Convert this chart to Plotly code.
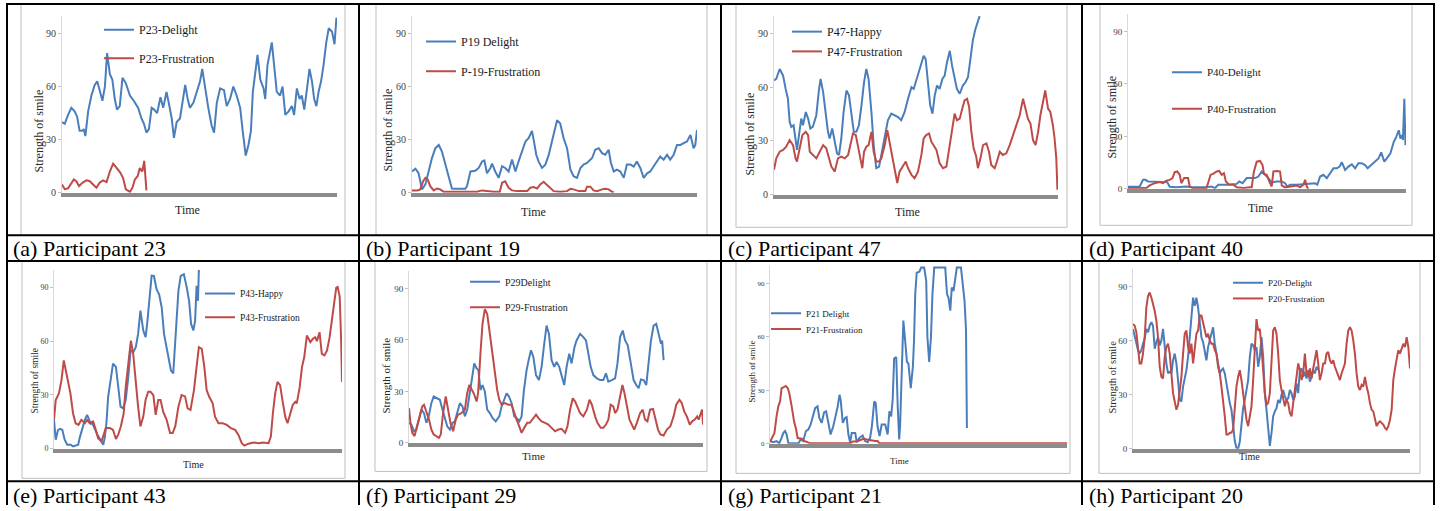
import plotly.graph_objects as go

W, H = 1442, 511
FONT = "'Liberation Serif', 'Times New Roman', Times, 'DejaVu Serif', serif"
BLUE = "#4A7EBB"
RED = "#BE4B48"

# ---------------- data (time in % of the recording, strength of smile) ----------------
# (a) Participant 23
a_blue_t = [0, 1.0, 2.2, 3.4, 4.6, 5.5, 6.4, 7.3, 7.9, 8.5, 9.5, 10.7, 11.9, 12.8, 13.7, 14.7, 15.6, 16.4, 17.4, 18.3,
            19.2, 20.0, 21.0, 22.0, 23.2, 24.7, 26.1, 27.7, 28.9, 29.8, 30.7, 31.6, 32.6, 33.5, 34.6, 35.8, 36.8, 38.0, 38.8, 39.9,
            40.7, 41.7, 42.9, 43.9, 44.8, 45.7, 46.5, 47.8, 49.0, 50.2, 51.0, 52.0, 53.2, 54.4, 55.3, 56.3, 57.5, 58.9, 59.9, 61.1,
            62.3, 63.5, 64.8, 65.7, 66.8, 67.8, 68.7, 69.4, 70.2, 71.1, 72.1, 73.3, 73.9, 74.7, 76.3, 77.2, 78.1, 79.3, 80.2, 81.2,
            82.4, 83.6, 84.4, 85.4, 86.4, 87.2, 88.1, 89.1, 90.0, 90.9, 91.7, 92.5, 93.3, 94.2, 95.1, 96.1, 97.0, 98.2, 99.1, 99.8]
a_blue_v = [40, 39, 44, 48, 46, 43, 35, 35, 36, 32, 46, 55, 61, 63, 58, 52, 60, 79, 67, 64,
            53, 47, 49, 65, 62, 55, 52, 48, 42, 39, 34, 36, 48, 47, 45, 54, 48, 57, 51, 42,
            31, 40, 42, 53, 61, 53, 48, 51, 57, 63, 70, 59, 48, 38, 34, 51, 59, 58, 49, 53,
            60, 55, 48, 35, 21, 27, 35, 57, 66, 78, 64, 59, 53, 72, 85, 72, 57, 55, 60, 44,
            46, 49, 44, 59, 53, 55, 47, 59, 70, 63, 53, 49, 57, 63, 72, 85, 93, 91, 84, 99]
a_red_t = [0, 1.0, 2.2, 3.4, 4.3, 5.2, 6.2, 7.4, 8.9, 10.1, 11.3, 12.5, 13.7, 14.9, 16.2, 17.4, 18.6, 19.8, 21.0, 22.2,
           23.2, 24.7, 25.6, 26.5, 27.5, 28.3, 29.2, 29.9, 30.4, 30.7]
a_red_v = [4.7, 2, 2.5, 5.6, 7.5, 6.5, 3.7, 5.6, 7, 6.5, 4.7, 2.8, 5.6, 7, 6, 12, 16.4, 14, 11.8, 8.4,
           1.9, 0.5, 2.8, 7.5, 9.3, 14, 12, 18, 8, 1.3]

# (b) Participant 19
b_blue_t = [0, 1.2, 2.3, 3.5, 4.7, 5.8, 7.0, 8.2, 9.4, 10.5, 11.7, 12.9, 14.0, 15.2, 17.0, 18.7, 19.3, 20.5, 22.2, 23.4,
            24.6, 25.4, 26.3, 27.5, 28.1, 29.2, 30.4, 31.6, 32.7, 33.9, 35.1, 36.3, 37.4, 38.6, 39.8, 40.9, 42.1, 42.7, 43.6, 44.4,
            45.6, 46.8, 48.0, 49.1, 50.1, 50.9, 52.0, 53.2, 54.4, 55.6, 56.7, 57.9, 59.1, 60.2, 61.4, 63.2, 64.3, 65.5, 66.7, 67.8,
            69.0, 69.8, 70.8, 71.9, 73.1, 74.3, 75.4, 76.6, 77.8, 78.9, 80.1, 81.3, 82.5, 83.6, 84.8, 86.0, 87.1, 88.3, 89.5, 90.6,
            91.8, 93.0, 94.2, 95.3, 96.5, 97.7, 98.8, 99.4, 100]
b_blue_v = [12, 13.6, 11, 1.9, 4.7, 12, 19.6, 25.2, 27, 23.3, 15.9, 9.3, 2.4, 2.2, 2.2, 2.2, 3.7, 12, 12.4, 14,
            17.7, 18.3, 11, 14, 16.4, 12, 8.4, 15, 14, 12, 18.7, 12, 17.7, 23.3, 29, 30.8, 34.9, 29.9, 21.5, 17.7,
            14, 15.9, 21.5, 29, 36.4, 41, 39.2, 30.8, 25.2, 13, 9.3, 8.4, 14, 15.9, 16.8, 19.6, 24.3, 25.2, 22.4, 21.5,
            24.3, 16.8, 12, 13, 12, 8.4, 15.9, 15.9, 14.8, 17.7, 14, 8.4, 11, 12, 15, 17.7, 20.5, 18.7, 21.5, 18.7,
            21.5, 27, 27, 28, 29, 32.7, 25.2, 27, 35.5]
b_red_t = [0, 1.8, 2.9, 3.9, 4.7, 5.5, 6.4, 7.6, 8.8, 9.9, 11.1, 17.0, 22.8, 24.6, 26.3, 28.7, 30.8, 31.6, 32.7, 33.9,
           35.1, 36.8, 40.4, 41.5, 42.7, 43.9, 45.0, 46.2, 47.4, 48.5, 49.7, 52.0, 54.4, 55.6, 56.7, 58.5, 60.8, 61.4, 62.6, 63.7,
           64.9, 66.7, 67.8, 69.0, 70.2, 70.8]
b_red_v = [1.3, 1.3, 1.9, 6.5, 8.4, 7.5, 3.7, 1.3, 2.4, 1.9, 0.5, 0.5, 0.5, 1.3, 0.9, 0.5, 0.5, 5.6, 6.5, 2.8,
           1.3, 0.9, 0.9, 2.8, 3.2, 2.4, 4.7, 6.2, 4.3, 2.4, 0.9, 0.5, 0.9, 2.2, 1.9, 0.9, 0.9, 3.4, 3.4, 1.3,
           0.9, 1.9, 2.2, 1.9, 0.5, 0.4]

# (c) Participant 47
c_blue_t = [0, 0.8, 2.0, 3.2, 4.1, 4.9, 5.5, 6.1, 6.9, 7.6, 8.1, 8.8, 9.6, 10.2, 11.2, 12.0, 12.8, 13.7, 14.9, 15.8,
            16.4, 17.3, 18.2, 19.0, 19.6, 20.5, 21.4, 22.2, 22.9, 23.7, 24.5, 25.5, 26.4, 27.2, 28.1, 29.0, 29.9, 30.8, 31.7, 32.5,
            33.3, 34.3, 35.1, 36.0, 37.0, 37.8, 39.0, 40.1, 41.3, 42.5, 43.7, 44.8, 46.0, 47.2, 48.4, 49.2, 50.1, 51.1, 51.9, 52.7,
            53.4, 54.2, 55.0, 55.8, 56.6, 57.4, 58.3, 59.3, 60.1, 60.9, 61.9, 62.7, 63.6, 64.4, 65.4, 66.5, 67.4, 68.3, 69.1, 70.0,
            70.9, 71.8, 72.4]
c_blue_v = [63.8, 64.7, 70.2, 66.5, 59.1, 53.6, 40.7, 37.9, 38.8, 31.4, 25, 33.3, 42.5, 38.8, 46.2, 42.5, 37, 38, 44.4, 58.2,
            64.7, 57.3, 46.2, 35.1, 31.4, 37, 29.6, 23.1, 22.2, 31.4, 46.2, 58.2, 55.5, 44.4, 35.1, 35.1, 38.8, 49.9, 62.8, 70.2,
            64.7, 46.2, 27.7, 14.8, 15.7, 22.2, 33.3, 41.6, 45.3, 44.4, 43.4, 41.6, 46.2, 53.6, 60.1, 59.1, 63.8, 68.4, 72.1, 77.6,
            75.8, 61, 49.9, 45.3, 55.5, 61, 59.1, 64.7, 66.5, 73.9, 80.4, 72.1, 64.7, 59.1, 56.4, 61, 62.8, 65.6, 75, 86.1,
            92.4, 97, 99.8]
c_red_t = [0, 0.8, 2.0, 3.2, 4.3, 5.5, 6.7, 7.6, 8.1, 9.0, 10.0, 11.2, 12.0, 12.6, 13.7, 14.9, 16.1, 17.3, 18.4, 19.4,
           20.2, 21.4, 22.5, 23.7, 24.9, 26.1, 26.9, 27.8, 28.8, 29.6, 30.4, 31.1, 31.7, 32.5, 33.3, 34.3, 35.1, 36.0, 37.0, 37.8,
           39.0, 39.9, 40.7, 41.9, 42.8, 43.4, 44.2, 45.4, 46.4, 47.2, 48.4, 49.5, 50.7, 51.9, 52.7, 53.6, 54.6, 55.4, 56.2, 57.2,
           58.3, 59.5, 60.7, 61.9, 62.8, 63.6, 64.4, 65.4, 66.3, 67.1, 68.0, 68.7, 69.5, 70.3, 71.2, 71.8, 72.7, 73.6, 74.8, 75.7,
           76.5, 77.7, 78.5, 79.5, 80.6, 81.8, 83.0, 84.2, 85.3, 86.5, 87.7, 88.6, 89.4, 90.3, 91.2, 92.1, 93.0, 93.8, 94.7, 95.5,
           96.5, 97.3, 98.2, 98.8, 99.4, 99.8]
c_red_v = [13.9, 20.3, 24, 25, 26.8, 30.5, 27.7, 20.3, 18.5, 25.9, 33.3, 35.1, 33.3, 24, 22.2, 20.3, 24, 27.7, 25.9, 19.4,
           15.7, 12.9, 20.3, 21.3, 20.3, 22.2, 27.7, 34.2, 33.3, 27.7, 20.3, 14.8, 24, 26.8, 27.7, 35.1, 24, 18.5, 18.5, 20.3,
           27.7, 36, 29.6, 20.3, 11.1, 6.5, 12.9, 15.7, 18.5, 14.8, 11.1, 9.2, 12.9, 22.2, 31.4, 33.3, 34.2, 29.6, 27.7, 25,
           17.6, 14.8, 15.7, 27.7, 38.8, 45.3, 41.6, 42.5, 48.1, 52.7, 53.6, 49, 35.1, 25.9, 21.3, 14.8, 20.3, 27.7, 28.7, 24,
           16.6, 14.8, 18.5, 24, 22.2, 23.1, 27.7, 33.3, 38.8, 44.4, 53.6, 48.1, 42.5, 39.7, 30.5, 27.7, 35.1, 44.4, 51.8, 58.2,
           48.1, 46.2, 38.8, 31.4, 20.3, 2.8]

# (d) Participant 40
d_blue_t = [0, 1.8, 4.2, 5.4, 6.3, 7.2, 10.2, 13.2, 14.1, 15.0, 17.4, 21.0, 22.8, 25.8, 28.2, 30.0, 31.3, 32.5, 35.5, 39.1,
            40.0, 41.2, 42.7, 44.5, 45.7, 46.9, 48.1, 49.3, 50.5, 51.7, 53.5, 55.3, 56.5, 57.3, 58.3, 60.7, 63.1, 65.5, 67.3, 68.1,
            69.1, 70.3, 71.5, 72.7, 73.9, 75.1, 76.1, 76.9, 78.1, 79.3, 80.5, 81.7, 82.9, 84.1, 85.3, 86.2, 87.4, 88.9, 90.1, 91.1,
            92.2, 93.1, 94.4, 95.6, 96.5, 97.4, 98.0, 98.6, 98.9, 99.4, 99.8]
d_blue_v = [1.1, 1.1, 1.3, 5.1, 5.1, 4.2, 4.2, 4.2, 3.8, 1.1, 0.9, 1.3, 0.9, 0.9, 0.8, 1.3, 0.4, 2.3, 2.3, 2.8,
            4.2, 3.2, 6.1, 6.1, 6.1, 7, 9.9, 8, 6.1, 3.6, 4.2, 4.2, 3.2, 1.3, 2.3, 2.3, 2.7, 3.2, 3.2, 2.3,
            7, 8, 6.1, 8.9, 11.7, 11.7, 12.7, 15.2, 10.8, 12.7, 14, 11.7, 14.6, 14.6, 13.6, 11.7, 13.6, 15.5, 17.4, 20.8,
            15.5, 17.4, 20.3, 26.9, 29.7, 33.5, 28.8, 30.7, 27.9, 51.5, 25]
d_red_t = [0, 3.0, 4.8, 6.6, 7.8, 9.6, 11.4, 12.6, 13.6, 15.0, 16.0, 16.8, 17.7, 18.6, 19.2, 20.2, 21.6, 22.2, 23.4, 28.2,
           28.8, 29.7, 30.6, 31.9, 32.8, 33.7, 34.5, 35.2, 36.4, 37.9, 39.1, 41.5, 43.9, 44.5, 45.3, 46.3, 47.5, 48.4, 48.9, 49.9,
           50.8, 51.7, 52.3, 53.7, 54.7, 55.3, 56.5, 59.5, 60.7, 61.9, 63.1, 63.7, 64.3, 64.9]
d_red_v = [0.4, 0.4, 0.8, 0.4, 1.9, 3.2, 3.8, 3.2, 4.5, 5.1, 6.1, 9.5, 9.9, 8, 3.2, 6.1, 6.1, 1.3, 0.4, 0.4,
           3.2, 8, 8.5, 9.9, 10.2, 8, 8.9, 4.2, 2.3, 2.3, 0.9, 0.4, 0.8, 0.8, 9.9, 15.5, 15.9, 13.6, 8.5, 8,
           4.2, 1.3, 9.9, 10.2, 9.9, 1.9, 0.8, 1.3, 1.9, 0.8, 2.3, 5.1, 1.3, 0]

# (e) Participant 43
e_blue_t = [0, 0.6, 1.4, 2.2, 2.9, 3.7, 4.6, 5.8, 6.6, 7.5, 8.4, 8.9, 9.9, 10.7, 11.5, 12.2, 12.8, 13.3, 14.2, 15.1,
            16.1, 17.1, 17.6, 18.2, 18.8, 19.6, 20.5, 21.5, 22.3, 23.1, 24.0, 24.9, 25.8, 26.6, 27.5, 28.4, 29.2, 30.0, 31.0, 31.8,
            32.4, 33.1, 33.9, 34.7, 35.6, 36.5, 37.4, 38.2, 39.1, 39.9, 40.6, 41.4, 42.2, 43.2, 44.0, 45.1, 46.1, 46.9, 47.6, 48.4,
            49.0, 49.5, 50.0, 50.3]
e_blue_v = [16.1, 5, 10.5, 11.1, 10.5, 5, 2.2, 2.2, 1.3, 1.7, 2.2, 5.9, 12.4, 16.1, 18.9, 16.1, 13.9, 14.2, 10.5, 7.8,
            5, 2.2, 5.9, 14.2, 29, 38.3, 47.5, 45.7, 34.6, 23.5, 22.5, 27.2, 40.1, 54.9, 53.9, 56.7, 64.1, 77.1, 66, 62.3,
            70.6, 82.6, 96.7, 96.5, 89.1, 86.3, 78.9, 64.1, 56.7, 49.3, 43.8, 42, 62.8, 88.2, 96.5, 97.4, 90, 82.6, 69.7, 66,
            71.5, 91, 82.6, 100]
e_red_t = [0, 0.6, 1.7, 2.6, 3.4, 4.1, 4.9, 5.7, 6.6, 7.5, 8.5, 9.5, 10.7, 11.5, 12.4, 13.6, 14.5, 15.3, 16.5, 17.3,
           18.0, 19.4, 20.5, 21.5, 22.3, 23.2, 24.2, 24.9, 25.8, 26.7, 27.5, 28.4, 29.2, 30.0, 31.0, 31.8, 32.7, 33.5, 34.5, 35.3,
           36.2, 37.0, 37.9, 39.1, 40.3, 41.2, 42.1, 43.2, 44.3, 45.5, 46.4, 47.4, 48.6, 49.5, 50.3, 51.3, 52.2, 53.0, 53.9, 55.1,
           55.9, 57.1, 58.6, 60.0, 61.4, 62.9, 64.0, 65.2, 66.1, 67.5, 69.3, 71.0, 72.7, 74.5, 75.3, 76.0, 76.8, 77.6, 78.5, 79.5,
           80.3, 81.1, 82.0, 82.9, 83.8, 84.3, 85.3, 86.1, 86.9, 87.8, 89.0, 89.9, 90.7, 91.3, 92.2, 93.0, 93.9, 94.8, 95.7, 96.5,
           97.3, 98.0, 98.5, 99.2, 99.7, 100]
e_red_v = [16.1, 27.2, 30.9, 38.3, 49.3, 43.8, 38.3, 30.9, 19.8, 14.2, 13.3, 16.1, 14.2, 16.1, 14.2, 15.2, 10.5, 5.9, 4.1, 7.8,
           11.5, 11.5, 10.5, 5.4, 7.8, 12.4, 19.8, 34.6, 49.3, 60.4, 53, 36.4, 23.5, 12.4, 17.9, 27.2, 31.8, 31.8, 29.9, 18.9,
           27.2, 27.2, 20.7, 16.1, 8.7, 8.7, 12.4, 23.5, 29.9, 29.2, 22.5, 21.6, 32.7, 45.6, 56.7, 55.8, 45.6, 32.7, 29, 25.3,
           17.9, 14.2, 14.2, 13.3, 11.5, 10.5, 7.8, 3.1, 1.7, 2.8, 3.5, 3.1, 3.5, 3.1, 6.8, 19.8, 30.9, 37.3, 35.5, 25.3,
           17.9, 14.2, 19.8, 24.4, 26.2, 25.3, 34.2, 45.6, 51.2, 63.2, 59.5, 61.4, 62.3, 60.1, 65.1, 53, 52.1, 54.9, 62.3, 71.5,
           80.8, 90, 90.4, 85, 60.4, 37.3]

# (f) Participant 29
f_blue_t = [0, 0.8, 1.7, 2.5, 3.4, 4.2, 5.1, 5.9, 6.7, 7.6, 8.4, 9.3, 10.5, 11.4, 12.2, 13.0, 13.9, 14.8, 15.6, 16.5,
            17.3, 18.2, 19.0, 19.8, 20.7, 21.5, 22.2, 23.0, 23.6, 24.3, 25.0, 25.8, 26.6, 27.5, 28.4, 29.5, 30.7, 31.5, 32.3, 33.2,
            34.0, 34.9, 35.8, 36.6, 37.5, 38.3, 39.1, 40.0, 40.8, 41.5, 42.3, 43.2, 44.2, 45.1, 46.0, 46.8, 47.6, 48.5, 49.4, 50.2,
            51.1, 51.9, 52.8, 53.6, 54.5, 55.3, 56.3, 57.0, 58.2, 59.3, 60.2, 61.0, 61.8, 62.7, 63.9, 65.0, 66.1, 67.0, 67.8, 69.0,
            70.1, 70.9, 71.8, 72.7, 73.5, 74.4, 75.5, 76.4, 77.3, 78.1, 78.9, 79.8, 80.7, 81.5, 82.3, 83.2, 84.1, 84.9, 85.7, 86.1,
            86.6]
f_blue_v = [11.6, 10.6, 6.7, 7.7, 13.5, 19.3, 17.3, 11.6, 15.4, 23.1, 27, 26, 25.1, 19.3, 13.5, 9.6, 7.7, 11.6, 12.5, 18.3,
            23.1, 21.2, 15.4, 19.3, 28.9, 38.5, 46.3, 43.4, 42.4, 30.8, 33.7, 29.9, 19.3, 17.3, 14.5, 12.5, 15.4, 21.2, 25.1, 28.9,
            27, 23.1, 15.4, 14.5, 12.5, 15.4, 30.8, 42.4, 49.1, 54, 50.1, 39.5, 36.6, 44.3, 57.8, 68.4, 63.6, 48.2, 44.3, 47.2,
            44.3, 38.5, 33.7, 44.3, 52, 46.3, 55.9, 59.7, 63.6, 61.7, 59.7, 52, 44.3, 39.5, 37.6, 36.6, 36.6, 40.5, 35.7, 36.6,
            37.6, 46.3, 61.7, 65.5, 59.7, 56.9, 44.3, 36.6, 33.7, 31.8, 37, 36.6, 33.7, 46.3, 59.7, 68.4, 69.4, 63.6, 57.8, 59.7,
            48.2]
f_red_t = [0, 0.5, 1.1, 1.9, 2.7, 3.6, 4.5, 5.1, 5.9, 6.8, 7.6, 8.4, 9.3, 10.2, 10.8, 11.6, 12.5, 13.3, 14.1, 15.0,
           15.9, 16.7, 17.8, 19.0, 19.8, 20.5, 21.3, 22.0, 23.0, 23.5, 24.3, 25.0, 25.8, 26.6, 27.5, 28.4, 29.2, 30.0, 30.7, 31.5,
           32.6, 33.8, 34.9, 35.8, 36.6, 37.5, 38.3, 39.2, 40.2, 41.1, 42.0, 43.2, 44.0, 45.1, 46.3, 47.4, 48.5, 49.7, 50.8, 51.9,
           53.1, 53.9, 54.8, 55.7, 56.5, 57.3, 58.2, 59.3, 60.5, 61.4, 62.2, 63.3, 64.1, 65.2, 66.1, 67.0, 67.8, 68.6, 69.5, 70.1,
           70.9, 71.8, 72.6, 73.3, 74.1, 75.0, 75.8, 76.6, 77.5, 78.6, 79.5, 80.3, 81.1, 82.0, 83.0, 83.8, 84.7, 85.5, 86.6, 87.7,
           88.9, 90.0, 90.9, 92.0, 92.8, 93.6, 94.5, 95.5, 96.3, 97.2, 98.0, 98.5, 99.1, 99.7, 100]
f_red_v = [20.2, 11.6, 5.8, 3.9, 9.6, 15.4, 21.2, 22.2, 18.3, 13.5, 7.7, 4.8, 3.9, 2.9, 4.8, 17.3, 27, 19.3, 11.6, 6.7,
           13.5, 16.4, 17.3, 19.3, 28.9, 33.7, 30.8, 28.9, 24.1, 28.9, 52, 69.4, 78, 75.1, 63.6, 52, 42.4, 30.8, 25.1, 22.2,
           23.1, 22.2, 22.2, 17.3, 13.5, 9.6, 5.8, 8.7, 11.6, 11.6, 13.5, 16.4, 14.5, 12.5, 11.6, 10.6, 8.7, 6.7, 7.7, 8.1,
           5.8, 9.6, 19.3, 26, 24.1, 21.2, 17.3, 15.4, 19.3, 25.1, 22.2, 15.4, 11.6, 8.7, 8.7, 10.6, 13.5, 22.2, 21.2, 17.3,
           19.3, 27, 33.7, 28.9, 21.2, 13.5, 10.6, 7.7, 11.6, 17.3, 19.3, 13.5, 12.5, 19.3, 19.7, 13.5, 7.7, 4.8, 4.2, 7.7,
           9.6, 15.4, 22.2, 25.1, 23.1, 18.3, 15.4, 10.6, 12.5, 13.5, 15.4, 13.5, 16.4, 19.3, 10.6]

# (g) Participant 21
g_blue_t = [0, 1.1, 2.2, 3.1, 3.9, 4.5, 5.1, 5.6, 6.2, 7.9, 9.6, 10.3, 11.2, 12.1, 12.9, 13.7, 14.4, 15.2, 16.0, 16.6,
            17.4, 18.2, 18.9, 19.7, 20.4, 21.3, 22.1, 22.8, 23.4, 23.8, 24.5, 25.3, 25.8, 26.4, 27.0, 27.5, 28.7, 29.2, 30.1, 31.2,
            32.0, 32.9, 33.7, 34.3, 35.1, 35.6, 36.2, 36.9, 37.6, 38.8, 39.6, 40.2, 40.8, 41.3, 41.8, 42.5, 43.0, 43.5, 43.8, 44.4,
            44.9, 45.5, 46.1, 46.6, 47.0, 47.4, 48.1, 48.5, 48.9, 49.4, 50.3, 50.9, 51.9, 52.6, 53.0, 53.6, 54.2, 54.7, 55.3, 57.3,
            59.0, 59.6, 60.1, 60.7, 61.2, 61.8, 62.4, 62.9, 64.3, 64.9, 65.5, 66.0, 66.3]
g_blue_v = [1.5, 0.9, 1.5, 0.2, 3.3, 6.1, 7.1, 5.2, 0.2, 0.2, 0.2, 2.4, 1.5, 7.1, 8, 10.8, 15.4, 20, 21, 14.5,
            11.7, 17.6, 18.2, 11.7, 5.2, 9.8, 15.4, 21, 27.5, 24.7, 11.7, 14.5, 15, 5.2, 0.6, 6.1, 6.1, 0.9, 3.3, 4.6,
            1.5, 0.9, 3.3, 9.8, 23.8, 22.8, 9.8, 4.3, 10.8, 10.8, 5.2, 18.2, 15.4, 24.7, 47.9, 48.8, 21, 2.4, 9.8, 48.8,
            69.2, 58.1, 46, 45.1, 35.8, 31.2, 43.2, 58.1, 84.1, 96.1, 96.7, 99, 99, 91.5, 60, 46, 60, 84.1, 99, 99,
            99, 84.1, 82.2, 74.8, 87.8, 85.9, 95.2, 99, 99, 87.8, 80.3, 63.6, 8.9]
g_red_t = [0, 0.8, 1.5, 2.2, 2.8, 3.4, 3.9, 4.5, 5.3, 6.0, 6.5, 7.3, 8.1, 8.8, 9.3, 10.7, 11.5, 12.6, 13.5, 27.0,
           27.9, 29.2, 30.3, 31.5, 32.6, 33.7, 35.4, 36.2, 36.9, 100]
g_red_v = [0.9, 3.3, 6.1, 15.4, 21, 23.8, 31.2, 31.7, 32.5, 31.2, 28.4, 21, 12.6, 8, 3.2, 2.8, 1.5, 0.9, 0.2, 0.2,
           1.3, 1.3, 1.9, 2.8, 2.4, 1.9, 1.5, 1.5, 0.2, 0.2]

# (h) Participant 20 (equally spaced samples)
h_blue_v = [66.5, 61.9, 58.3, 54.7, 52.8, 54.7, 58.3, 61, 66.5, 64.7, 68.3, 70.2, 68.3, 55.5, 59.2, 61.9, 57.4, 60.1, 66.5, 55.5,
            47.3, 41.8, 42.7, 41.8, 49.1, 52.8, 47.3, 38.1, 27.1, 26.2, 34.5, 39, 43.6, 51, 61.9, 74.8, 83.9, 79.3, 83.9, 78.4,
            69.3, 61.9, 59.2, 54.7, 49.1, 56.4, 60.1, 63.8, 67.4, 58.3, 52.8, 47.3, 41.8, 43.6, 44.5, 41.8, 35.4, 30.8, 25.3, 21.6,
            14.3, 4.2, 0.5, 0, 4, 12.5, 22.5, 27.1, 32.6, 38.1, 51, 58.3, 57.4, 54.7, 56.4, 45.5, 51, 61.9, 51, 30.8,
            21.6, 8.8, 1.5, 8.8, 18, 20.7, 22.5, 27.1, 25.3, 29.9, 32.6, 29, 27.1, 28, 32.6, 30.8, 27.1, 28.9, 36.3, 30.8,
            43.6, 44.5, 39.9, 42.7, 38.9, 43.6, 37.2, 39.9, 43.6, 41.8, 45.5, 43.6]
h_red_v = [69.3, 68.3, 64.7, 54.7, 47.3, 47.3, 52.8, 61.9, 78.4, 84.8, 86.7, 83.9, 80.3, 76.6, 71.1, 61.9, 45.5, 39.9, 39, 51,
           56.4, 58.3, 52.8, 41.8, 30.8, 26.2, 21.6, 24.4, 32.6, 39.9, 52.8, 63.8, 65.6, 56.4, 52.8, 58.3, 47.3, 56.4, 63.8, 65.6,
           73.9, 73.9, 69.3, 65.6, 61.9, 63.8, 60.1, 58.3, 58.3, 54.7, 52.8, 45.5, 41.8, 34.5, 27.1, 18, 7.9, 7.9, 8.8, 8.8,
           10.6, 25.3, 34.5, 39.9, 43.6, 38.1, 30.8, 21.6, 16.1, 12.5, 18, 23.5, 38.1, 52.8, 72, 65.6, 66.5, 56.4, 43.6, 30.8,
           24.4, 25.3, 30.8, 51, 65.6, 67.4, 63.8, 52.8, 38.1, 32.6, 27.1, 23.5, 27.1, 25.3, 19.8, 18, 25.3, 32.6, 41.8, 47.3,
           43.6, 38.1, 41.8, 52.8, 41.8, 39.9, 44.5, 39, 44.5, 51, 54.7, 47.3, 38.1, 41.8, 47.3, 47.3, 52.8, 53.7, 49.1, 47.3,
           49.1, 45.5, 42.7, 39.9, 38.1, 41.8, 44.5, 47.3, 58.3, 65.6, 67.4, 65.6, 60.1, 52.8, 41.8, 34.5, 32.6, 35.4, 34.5, 39.9,
           34.5, 30.8, 25.3, 21.6, 20.7, 16.1, 12.5, 14.3, 15.2, 14.3, 13.4, 11.5, 10.6, 12.5, 16.1, 21.6, 38.1, 44.5, 49.1, 54.7,
           52.8, 55.5, 58.3, 56.4, 61.9, 56.4, 44.5]
h_blue_t = list(range(len(h_blue_v)))
h_red_t = list(range(len(h_red_v)))

y_ticks = [0, 30, 60, 90]
captions = ["(a) Participant 23", "(b) Participant 19", "(c) Participant 47", "(d) Participant 40",
            "(e) Participant 43", "(f) Participant 29", "(g) Participant 21", "(h) Participant 20"]
names = [("P23-Delight", "P23-Frustration"), ("P19 Delight", "P-19-Frustration"),
         ("P47-Happy", "P47-Frustration"), ("P40-Delight", "P40-Frustration"),
         ("P43-Happy", "P43-Frustration"), ("P29Delight", "P29-Frustration"),
         ("P21 Delight", "P21-Frustration"), ("P20-Delight", "P20-Frustration")]
series = [(a_blue_t, a_blue_v, a_red_t, a_red_v), (b_blue_t, b_blue_v, b_red_t, b_red_v),
          (c_blue_t, c_blue_v, c_red_t, c_red_v), (d_blue_t, d_blue_v, d_red_t, d_red_v),
          (e_blue_t, e_blue_v, e_red_t, e_red_v), (f_blue_t, f_blue_v, f_red_t, f_red_v),
          (g_blue_t, g_blue_v, g_red_t, g_red_v), (h_blue_t, h_blue_v, h_red_t, h_red_v)]
x_max = [100, 100, 100, 100, 100, 100, 100, len(h_red_v) - 1]

# ---------------- geometry (pixels) ----------------
geom = [
    dict(x0=62, x1=337, y0=195, top=16.1, frame=(21, 4, 345, 238), leg=[(139, 30), (139, 59)], lfs=12,
         yt=(39, 133, 12), tm=(187, 213, 12), tfs=10, cap=(11, 251.5)),
    dict(x0=412, x1=697, y0=195, top=16.1, frame=(376, 4, 707, 238), leg=[(461, 42), (461, 72)], lfs=12,
         yt=(388, 132, 12), tm=(533, 215, 12), tfs=10, cap=(364, 251.5)),
    dict(x0=774, x1=1058, y0=197, top=15.9, frame=(736, 4, 1067, 230), leg=[(827, 32), (827, 52)], lfs=12,
         yt=(750, 136, 12), tm=(907, 215, 12), tfs=10, cap=(726, 251.5)),
    dict(x0=1128, x1=1406, y0=191, top=14.3, frame=(1100, 4, 1412, 228), leg=[(1207, 73), (1207, 110)], lfs=11,
         yt=(1112, 119, 12), tm=(1260, 210, 12), tfs=9, cap=(1087, 251.5)),
    dict(x0=54, x1=342, y0=454, top=272.9, frame=(22, 264, 345, 484), leg=[(240, 297), (240, 321)], lfs=9.5,
         yt=(35, 386, 9.5), tm=(193, 470, 10), tfs=8, cap=(11, 501.5)),
    dict(x0=409, x1=703, y0=448, top=274.7, frame=(375, 264, 707, 477), leg=[(505, 285), (505, 311)], lfs=10,
         yt=(386, 380, 11), tm=(533, 461, 11), tfs=9, cap=(364, 501.5)),
    dict(x0=770, x1=1067, y0=449, top=269, frame=(736, 264, 1070, 479), leg=[(806, 317), (806, 333)], lfs=9,
         yt=(752, 376, 9), tm=(900, 466, 9), tfs=7, cap=(726, 501.5)),
    dict(x0=1133, x1=1410, y0=454, top=271.8, frame=(1099, 264, 1420, 479), leg=[(1268, 286), (1268, 302)], lfs=9,
         yt=(1113, 382, 10.5), tm=(1249, 462, 10), tfs=9, cap=(1087, 501.5)),
]


def X(px):
    return px / W


def Y(py):
    return 1 - py / H


fig = go.Figure()
layout = dict(width=W, height=H, autosize=False, margin=dict(l=0, r=0, t=0, b=0),
              paper_bgcolor="white", plot_bgcolor="rgba(0,0,0,0)", hovermode=False,
              font=dict(family=FONT, color="#262626"))
shapes = []
annotations = []

# chart-area frames (light grey)
for g in geom:
    fx0, fy0, fx1, fy1 = g["frame"]
    shapes.append(dict(type="rect", xref="paper", yref="paper", x0=X(fx0), x1=X(fx1), y0=Y(fy1), y1=Y(fy0),
                       line=dict(color="#BFBFBF", width=1), fillcolor="rgba(0,0,0,0)", layer="below"))

# table rules (black)
for yy in [4, 238, 264, 487]:
    shapes.append(dict(type="line", xref="paper", yref="paper", x0=X(6), x1=X(1435), y0=Y(yy), y1=Y(yy),
                       line=dict(color="black", width=2)))
for xx in [7, 359, 721, 1082, 1434]:
    shapes.append(dict(type="line", xref="paper", yref="paper", x0=X(xx), x1=X(xx), y0=Y(3), y1=Y(511),
                       line=dict(color="black", width=2)))

for k, (g, s, nm, cap, xm) in enumerate(zip(geom, series, names, captions, x_max)):
    n = "" if k == 0 else str(k + 1)
    bt, bv, rt, rv = s
    for j, (t, v, name, col) in enumerate([(bt, bv, nm[0], BLUE), (rt, rv, nm[1], RED)]):
        idx = 2 * k + j
        lid = "legend" if idx == 0 else "legend" + str(idx + 1)
        fig.add_trace(go.Scatter(x=t, y=v, mode="lines", name=name, legend=lid,
                                 line=dict(color=col, width=2), xaxis="x" + n, yaxis="y" + n,
                                 hoverinfo="skip", showlegend=True))
        lx, ly = g["leg"][j]
        layout[lid] = dict(x=X(lx - 40), y=Y(ly), xanchor="left", yanchor="middle",
                           bgcolor="rgba(0,0,0,0)", borderwidth=0, itemwidth=30,
                           font=dict(family=FONT, size=g["lfs"], color="#1A1A1A"))
    layout["xaxis" + n] = dict(domain=[X(g["x0"]), X(g["x1"])], range=[0, xm], anchor="y" + n,
                               showgrid=False, zeroline=False, showticklabels=False, ticks="",
                               showline=True, linecolor="#8C8C8C", linewidth=4, layer="below traces",
                               fixedrange=True)
    layout["yaxis" + n] = dict(domain=[Y(g["y0"]), Y(g["top"])], range=[0, 100], anchor="x" + n,
                               tickvals=y_ticks, ticktext=[str(v) for v in y_ticks],
                               showgrid=False, zeroline=False, showline=True, linecolor="#D9D9D9",
                               linewidth=1, ticks="outside", ticklen=3, tickcolor="#BFBFBF",
                               tickfont=dict(family=FONT, size=g["tfs"], color="#404040"),
                               layer="below traces", fixedrange=True)
    ytx, yty, ytf = g["yt"]
    annotations.append(dict(text="Strength of smile", x=X(ytx), y=Y(yty), xref="paper", yref="paper",
                            textangle=-90, showarrow=False, xanchor="center", yanchor="middle",
                            font=dict(family=FONT, size=ytf, color="#262626")))
    tx, ty, tf = g["tm"]
    annotations.append(dict(text="Time", x=X(tx), y=Y(ty), xref="paper", yref="paper", showarrow=False,
                            xanchor="center", yanchor="middle", font=dict(family=FONT, size=tf, color="#262626")))
    cx, cy = g["cap"]
    annotations.append(dict(text=cap, x=X(cx), y=Y(cy), xref="paper", yref="paper", showarrow=False,
                            xanchor="left", yanchor="middle", font=dict(family=FONT, size=22, color="black")))

layout["shapes"] = shapes
layout["annotations"] = annotations
fig.update_layout(**layout)

fig.write_html("out.html", config={"displayModeBar": False, "staticPlot": True},
               post_script="document.body.style.margin='0';document.body.style.overflow='hidden';")
